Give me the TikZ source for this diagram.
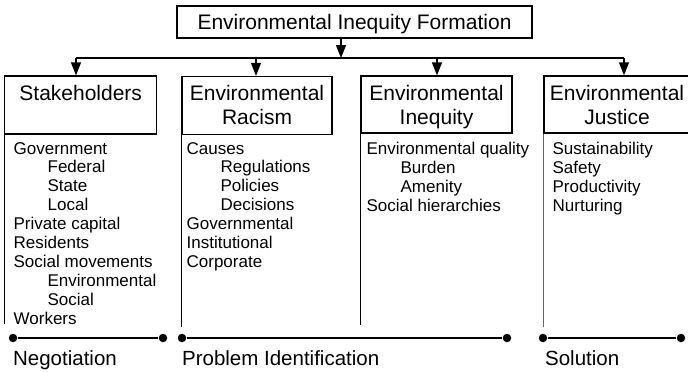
\documentclass[tikz,border=0pt]{standalone}
\usepackage{fontspec}
\setmainfont{Liberation Sans}
\usetikzlibrary{arrows.meta, positioning}
\newcommand{\itemind}{\hspace*{34pt}}

\begin{document}
\begin{tikzpicture}[x=1pt, y=-1pt, line width=1.3pt,
	arr/.style={-{Triangle[width=10pt, length=13pt]}},
	head/.style={draw, minimum height=58pt, inner sep=0pt},
	headtext/.style={align=center, inner sep=0pt, font=\fontsize{21}{24}\selectfont},
	items/.style={anchor=north west, align=left, inner sep=0pt, font=\fontsize{17}{18.9}\selectfont},
	phase/.style={anchor=base west, inner sep=0pt, font=\fontsize{20.5}{24}\selectfont},
	dot/.style={circle, fill, inner sep=0pt, minimum size=8.5pt},
	rule/.style={line width=0.8pt}]
	\useasboundingbox (0,0) rectangle (688,372);
	\clip (0,0) rectangle (688,372);
	
	\node[draw, minimum width=355pt, minimum height=32pt, text depth=0pt, font=\fontsize{21}{24}\selectfont] (form) at (354.5,22) {Environmental Inequity Formation};
	
	\node[head, minimum width=152pt] (stake) at (80.7,105) {};
	\node[head, minimum width=150pt] (racism) at (257,105.5) {};
	\node[head, minimum width=151pt, minimum height=57pt] (inequity) at (436.5,104.5) {};
	\node[head, minimum width=146pt, minimum height=57pt] (justice) at (617,104.5) {};
	\node[headtext, below=9pt of stake.north] (stakeT) {Stakeholders};
	\node[headtext, below=9pt of racism.north] (racismT) {Environmental\\Racism};
	\node[headtext, below=9pt of inequity.north] (inequityT) {Environmental\\Inequity};
	\node[headtext, below=9pt of justice.north] (justiceT) {Environmental\\Justice};
	
	\coordinate (hub) at (341,58);
	\coordinate (b1) at (76,58);
	\coordinate (b2) at (256,58);
	\coordinate (b3) at (437,58);
	\coordinate (b4) at (624,58);
	\draw[arr] (form.south -| hub) -- (hub);
	\draw (b1) -- (b4);
	\path[arr]
	(b1) edge (b1 |- stake.north)
	(b2) edge (b2 |- racism.north)
	(b3) edge (b3 |- inequity.north)
	(b4) edge (b4 |- justice.north);
	
	\node[items] (stakeL) at (13,141.5) {Government\\\itemind Federal\\\itemind State\\\itemind Local\\Private capital\\Residents\\Social movements\\\itemind Environmental\\\itemind Social\\Workers};
	\node[items] (racismL) at (186,141.5) {Causes\\\itemind Regulations\\\itemind Policies\\\itemind Decisions\\Governmental\\Institutional\\Corporate};
	\node[items] (inequityL) at (366,141.5) {Environmental quality\\\itemind Burden\\\itemind Amenity\\Social hierarchies};
	\node[items] (justiceL) at (552,141.5) {Sustainability\\Safety\\Productivity\\Nurturing};
	
	\coordinate (e1) at (stake.south west |- 0,324);
	\coordinate (e2) at (racism.south west |- 0,327);
	\coordinate (e3) at (inequity.south west |- 0,325);
	\coordinate (e4) at (justice.south west |- 0,327);
	\draw[rule] (stake.south west) -- (e1);
	\draw[rule] (racism.south west) -- (e2);
	\draw[rule] (inequity.south west) -- (e3);
	\draw[rule, black!60] (justice.south west) -- (e4);
	
	\node[dot] (n1) at (13,338) {};
	\node[dot] (n2) at (163,338) {};
	\node[dot] (p1) at (182,338) {};
	\node[dot] (p2) at (507,338) {};
	\node[dot] (s1) at (543,338) {};
	\node[dot] (s2) at (681,338) {};
	\draw (n1) -- (n2);
	\draw (p1) -- (p2);
	\draw (s1) -- (s2);
	\node[phase] (neg) at (12.5,365.7) {Negotiation};
	\node[phase] (prob) at (181.5,365.7) {Problem Identification};
	\node[phase] (sol) at (544.5,365.7) {Solution};
\end{tikzpicture}
\end{document}
